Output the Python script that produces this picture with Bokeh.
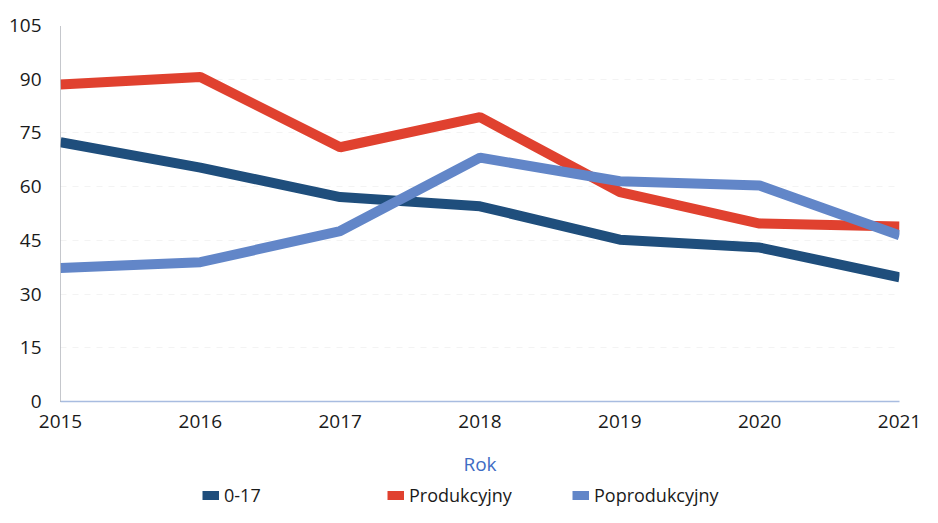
from bokeh.plotting import figure
from bokeh.layouts import column
from bokeh.models import Legend, LegendItem, Range1d, FixedTicker
from bokeh.embed import file_html
from bokeh.resources import INLINE

years = [2015, 2016, 2017, 2018, 2019, 2020, 2021]
age_0_17 = [72.4, 65.3, 57.1, 54.5, 45.2, 43.0, 34.7]
produkcyjny = [88.5, 90.6, 71.0, 79.4, 58.5, 49.7, 48.9]
poprodukcyjny = [37.3, 38.9, 47.6, 68.1, 61.5, 60.3, 46.4]
y_ticks = [0, 15, 30, 45, 60, 75, 90, 105]
series_names = ["0-17", "Produkcyjny", "Poprodukcyjny"]
series_values = [age_0_17, produkcyjny, poprodukcyjny]
colors = ["#1f4e7c", "#e0412f", "#6286c8"]

FONT = "Open Sans"

p = figure(width=922, height=479, output_backend="svg", toolbar_location=None,
           x_range=Range1d(2015, 2021), y_range=Range1d(0, 105),
           min_border_left=60, min_border_right=23, min_border_top=25,
           min_border_bottom=78)
p.outline_line_color = None
p.background_fill_color = "white"
p.border_fill_color = "white"

for vals, c in zip(series_values, colors):
    p.line(years, vals, line_color=c, line_width=10)

p.xaxis.ticker = FixedTicker(ticks=years)
p.yaxis.ticker = FixedTicker(ticks=y_ticks)
for ax in (p.xaxis[0], p.yaxis[0]):
    ax.major_tick_line_color = None
    ax.minor_tick_line_color = None
    ax.major_label_text_font = FONT
    ax.major_label_text_font_size = "19px"
    ax.major_label_text_color = "#1a1a1a"
p.yaxis.major_label_standoff = 13
p.xaxis.major_label_standoff = 7
p.yaxis.axis_line_color = "#8a8f99"
p.yaxis.axis_line_dash = "1 1"
p.yaxis.axis_line_width = 1
p.xaxis.axis_line_color = "#a8bce0"
p.xaxis.axis_line_width = 1.5
p.xaxis.axis_label = "Rok"
p.xaxis.axis_label_text_font = FONT
p.xaxis.axis_label_text_font_size = "19px"
p.xaxis.axis_label_text_font_style = "normal"
p.xaxis.axis_label_text_color = "#3f6cc4"
p.xaxis.axis_label_standoff = 20

p.xgrid.grid_line_color = None
p.ygrid.grid_line_color = "#f3f3f3"
p.ygrid.grid_line_dash = "6 6"

# legend strip below the chart (series drawn out of view, only the legend shows)
lg = figure(width=922, height=28, output_backend="svg", toolbar_location=None,
            x_range=Range1d(0, 1), y_range=Range1d(0, 1),
            x_axis_location=None, y_axis_location=None,
            min_border_left=60, min_border_right=23, min_border_top=0,
            min_border_bottom=0)
lg.outline_line_color = None
lg.xgrid.grid_line_color = None
lg.ygrid.grid_line_color = None
legend_renderers = [lg.line(years, vals, line_color=c, line_width=9)
                    for vals, c in zip(series_values, colors)]
items = [LegendItem(label=n, renderers=[r]) for n, r in zip(series_names, legend_renderers)]
leg = Legend(items=items, location=(142, 0), orientation="horizontal",
             glyph_width=17, glyph_height=14, label_width=163,
             label_text_font=FONT, label_text_font_size="18px",
             label_text_color="#1a1a1a", label_standoff=5,
             padding=0, margin=0, border_line_color=None,
             background_fill_alpha=0, spacing=0)
lg.add_layout(leg, "center")

layout = column(p, lg, spacing=0)
open("out.html", "w").write(file_html(layout, INLINE))
